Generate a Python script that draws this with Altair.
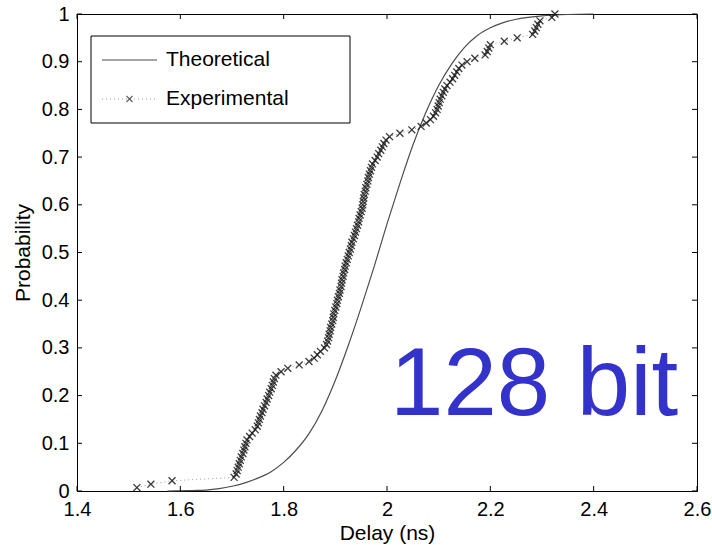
import altair as alt
import pandas as pd

# ---- data ----
x_ticks = [1.4, 1.6, 1.8, 2.0, 2.2, 2.4, 2.6]
y_ticks = [0, 0.1, 0.2, 0.3, 0.4, 0.5, 0.6, 0.7, 0.8, 0.9, 1.0]

theory_delay = [1.575, 1.60, 1.625, 1.65, 1.675, 1.70, 1.725, 1.75, 1.775, 1.80,
                1.825, 1.85, 1.875, 1.90, 1.925, 1.95, 1.975, 2.00, 2.025, 2.05,
                2.075, 2.10, 2.125, 2.15, 2.175, 2.20, 2.225, 2.25, 2.30, 2.35, 2.40]
theory_prob = [0.0, 0.0005, 0.001, 0.002, 0.005, 0.010, 0.017, 0.027, 0.040, 0.060,
               0.087, 0.122, 0.170, 0.232, 0.305, 0.385, 0.47, 0.56, 0.645, 0.725,
               0.793, 0.85, 0.895, 0.93, 0.955, 0.971, 0.982, 0.989, 0.996, 0.999, 1.0]

exp_delay = [1.516, 1.543, 1.584, 1.704, 1.708, 1.710, 1.712, 1.714, 1.716, 1.718,
             1.721, 1.723, 1.725, 1.727, 1.729, 1.734, 1.739, 1.745, 1.749, 1.751,
             1.753, 1.755, 1.758, 1.760, 1.763, 1.766, 1.768, 1.771, 1.773, 1.776,
             1.778, 1.780, 1.782, 1.785, 1.795, 1.808, 1.830, 1.849, 1.859, 1.865,
             1.871, 1.879, 1.883, 1.885, 1.887, 1.888, 1.890, 1.891, 1.893, 1.895,
             1.896, 1.897, 1.899, 1.901, 1.903, 1.904, 1.906, 1.908, 1.909, 1.911,
             1.912, 1.913, 1.915, 1.916, 1.918, 1.919, 1.921, 1.923, 1.925, 1.927,
             1.929, 1.931, 1.932, 1.935, 1.937, 1.939, 1.941, 1.943, 1.945, 1.946,
             1.948, 1.950, 1.952, 1.953, 1.954, 1.955, 1.956, 1.958, 1.959, 1.961,
             1.963, 1.964, 1.966, 1.968, 1.970, 1.972, 1.977, 1.981, 1.984, 1.988,
             1.991, 1.994, 1.998, 2.005, 2.025, 2.048, 2.066, 2.076, 2.084, 2.090,
             2.094, 2.097, 2.099, 2.101, 2.103, 2.106, 2.109, 2.112, 2.116, 2.122,
             2.127, 2.131, 2.135, 2.139, 2.145, 2.155, 2.170, 2.190, 2.194, 2.197,
             2.200, 2.227, 2.252, 2.282, 2.286, 2.289, 2.292, 2.296, 2.319, 2.325]

legend_labels = ["Theoretical", "Experimental"]
annotation = "128 bit"

FONT = "Liberation Sans"
W, H = 620, 477

theo = pd.DataFrame({"delay": theory_delay, "prob": theory_prob})
exp = pd.DataFrame({"delay": exp_delay})
xt = pd.DataFrame({"t": x_ticks})
yt = pd.DataFrame({"t": y_ticks})
one = pd.DataFrame({"a": [0]})

xscale = alt.Scale(domain=[1.4, 2.6], nice=False, zero=False)
yscale = alt.Scale(domain=[0, 1], nice=False, zero=False)

xaxis = alt.Axis(values=x_ticks, format="~g", tickSize=0, grid=False,
                 labelFlush=False, labelOverlap=False,
                 domainColor="black", labelFont=FONT, labelFontSize=20,
                 labelColor="black", labelPadding=8, title="Delay (ns)",
                 titleFont=FONT, titleFontSize=21, titleFontWeight="normal",
                 titleColor="black", titlePadding=3)
yaxis = alt.Axis(values=y_ticks, format="~g", tickSize=0, grid=False,
                 labelFlush=False, labelOverlap=False,
                 domainColor="black", labelFont=FONT, labelFontSize=20,
                 labelColor="black", labelPadding=8, title="Probability",
                 titleFont=FONT, titleFontSize=21, titleFontWeight="normal",
                 titleColor="black", titlePadding=8)

theory_line = alt.Chart(theo).mark_line(color="#4d4d4d", strokeWidth=1.2,
                                        interpolate="monotone").encode(
    x=alt.X("delay:Q", scale=xscale, axis=xaxis),
    y=alt.Y("prob:Q", scale=yscale, axis=yaxis),
)

exp_base = alt.Chart(exp).transform_window(
    prob="cume_dist()", sort=[alt.SortField("delay")]
)
exp_line = exp_base.mark_line(color="#9a9a9a", strokeWidth=1,
                              strokeDash=[1, 3]).encode(
    x=alt.X("delay:Q", scale=xscale),
    y=alt.Y("prob:Q", scale=yscale),
)
exp_pts = exp_base.mark_point(shape="M-1,-1L1,1M-1,1L1,-1", size=48,
                              filled=False, color="#1a1a1a",
                              strokeWidth=1.3, opacity=0.85).encode(
    x=alt.X("delay:Q", scale=xscale),
    y=alt.Y("prob:Q", scale=yscale),
)

# inside ticks on all four sides (MATLAB box style)
tick_len = 5
xb = alt.Chart(xt).mark_rule(color="black").encode(
    x=alt.X("t:Q", scale=xscale), y=alt.value(H), y2=alt.value(H - tick_len))
xtp = alt.Chart(xt).mark_rule(color="black").encode(
    x=alt.X("t:Q", scale=xscale), y=alt.value(0), y2=alt.value(tick_len))
yl = alt.Chart(yt).mark_rule(color="black").encode(
    y=alt.Y("t:Q", scale=yscale), x=alt.value(0), x2=alt.value(tick_len))
yr = alt.Chart(yt).mark_rule(color="black").encode(
    y=alt.Y("t:Q", scale=yscale), x=alt.value(W), x2=alt.value(W - tick_len))

# legend box
leg_box = alt.Chart(one).mark_rect(fill="white", stroke="black",
                                   strokeWidth=1).encode(
    x=alt.value(14), x2=alt.value(273), y=alt.value(22), y2=alt.value(109))
leg_l1 = alt.Chart(one).mark_rule(color="#4d4d4d", strokeWidth=1.2).encode(
    x=alt.value(25), x2=alt.value(80), y=alt.value(46))
leg_l2 = alt.Chart(one).mark_rule(color="#9a9a9a", strokeWidth=1,
                                  strokeDash=[1, 3]).encode(
    x=alt.value(25), x2=alt.value(80), y=alt.value(85))
leg_p2 = alt.Chart(one).mark_point(shape="M-1,-1L1,1M-1,1L1,-1", size=36,
                                   filled=False, color="#1a1a1a",
                                   strokeWidth=1.1).encode(
    x=alt.value(52.5), y=alt.value(85))
leg_t1 = alt.Chart(one).mark_text(text=legend_labels[0], font=FONT, fontSize=21,
                                  align="left", baseline="middle",
                                  color="black").encode(
    x=alt.value(89), y=alt.value(46))
leg_t2 = alt.Chart(one).mark_text(text=legend_labels[1], font=FONT, fontSize=21,
                                  align="left", baseline="middle",
                                  color="black").encode(
    x=alt.value(89), y=alt.value(85))

big = alt.Chart(one).mark_text(text=annotation, font=FONT, fontSize=96,
                               align="left", baseline="alphabetic",
                               color="#3333CC").encode(
    x=alt.value(313), y=alt.value(401))

chart = alt.layer(
    theory_line, exp_line, exp_pts, xb, xtp, yl, yr,
    leg_box, leg_l1, leg_l2, leg_p2, leg_t1, leg_t2, big
).properties(
    width=W, height=H,
    padding={"left": 77, "top": 14, "right": 15, "bottom": 54},
    autosize=alt.AutoSizeParams(type="none"),
    background="white",
).configure_view(stroke="black", strokeWidth=1)

chart.save("out.html", embed_options={"renderer": "svg", "actions": False})
